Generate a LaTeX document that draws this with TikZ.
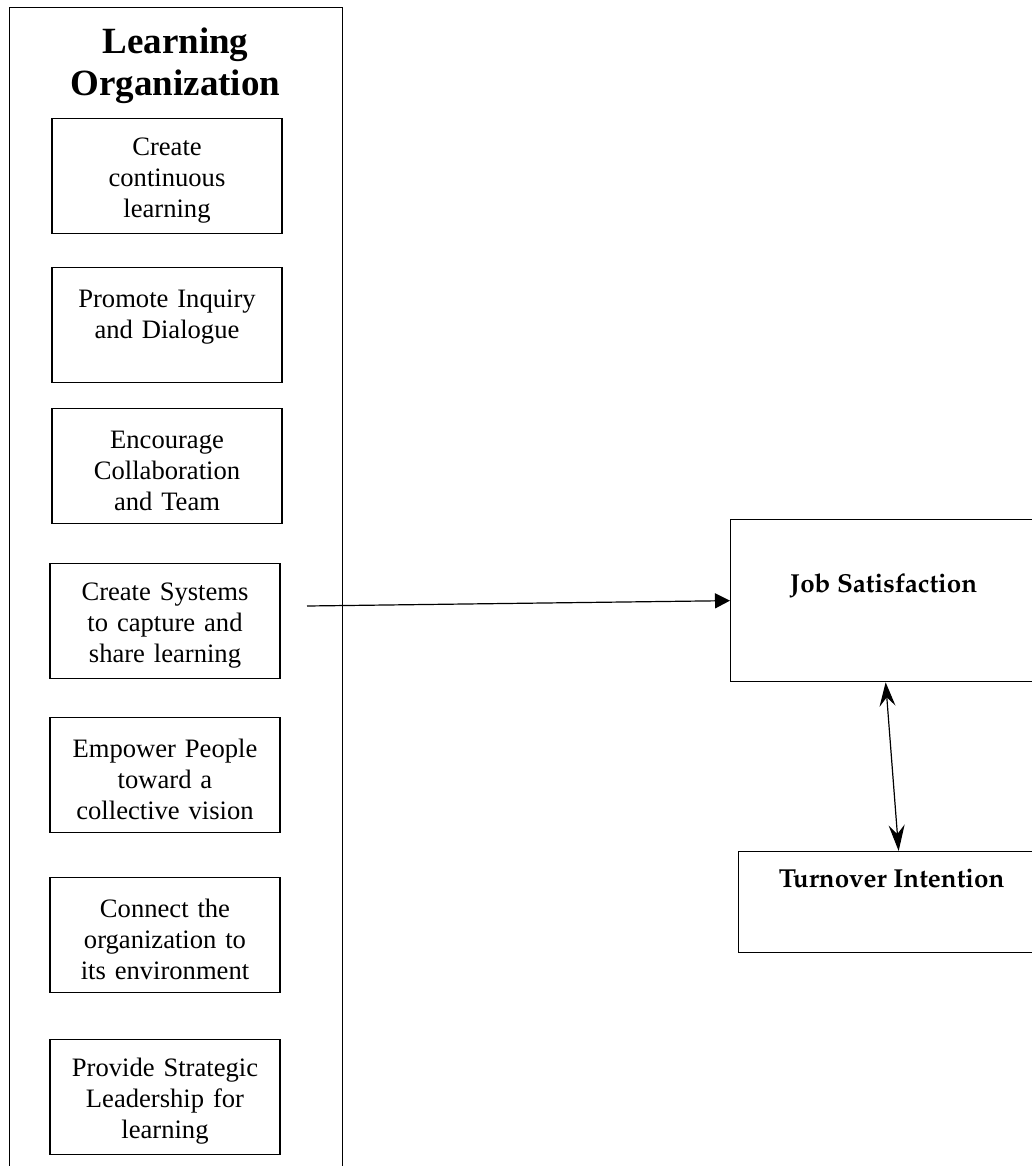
\documentclass[tikz,border=0pt]{standalone}
\usepackage[T1]{fontenc}
\usepackage{fontspec}
\setmainfont{Liberation Serif}
\usepackage{tikz}
\usetikzlibrary{arrows.meta, positioning}

\newcommand{\palbold}{\fontencoding{T1}\fontfamily{ppl}\fontseries{b}\fontshape{n}\selectfont}

\begin{document}
\begin{tikzpicture}[x=1pt, y=-1pt,
			frame/.style={draw, line width=1pt, rectangle, anchor=north west, minimum width=333pt, minimum height=1175pt},
			item/.style={draw, line width=1.3pt, rectangle, anchor=north, inner sep=0pt, minimum width=230pt, minimum height=115pt, text width=226pt, align=center, font=\fontsize{26.6}{31}\selectfont, execute at begin node={\rule{0pt}{26pt}}},
			outcome/.style={draw, line width=1.3pt, rectangle, anchor=north west, inner sep=0pt, font=\fontsize{26}{30}\palbold},
			arrow/.style={line width=1.2pt, -{Triangle[length=15pt, width=15pt]}},
			twoway/.style={line width=1.2pt, {Stealth[length=24pt, width=16pt, inset=9pt]}-{Stealth[length=26pt, width=16pt, inset=9pt]}}
		]
		\useasboundingbox (0,0) rectangle (1032,1166);
		\clip (0,0) rectangle (1032,1166);

		% Draw the container
		\node[frame] (org) at (9,7) {};
		\node[inner sep=0pt, align=center, font=\fontsize{37}{42}\selectfont\bfseries] (title) at (175.5,65.5) {Learning\\Organization};

		% Draw the dimension boxes
		\node[item] (learn) at (167,118) {Create\\continuous\\learning};
		\node[item] (inquiry) at (167,267) {Promote Inquiry\\and Dialogue\\~};
		\node[item] (team) at (167,408) {Encourage\\Collaboration\\and Team};
		\node[item] (systems) at (165,563) {Create Systems\\to capture and\\share learning};
		\node[item] (empower) at (165,717) {Empower People\\toward a\\collective vision};
		\node[item] (connect) at (165,877) {Connect the\\organization to\\its environment};
		\node[item] (lead) at (165,1039) {Provide Strategic\\Leadership for\\learning};

		% Draw the outcome boxes
		\node[outcome, minimum width=306pt, minimum height=162pt, text height=19pt, text depth=35pt] (job) at (730,519) {Job Satisfaction};
		\node[outcome, minimum width=306pt, minimum height=101pt, text height=19pt, text depth=48pt] (turnover) at (738,851) {Turnover Intention};

		% Draw the arrows
		\coordinate (src) at (307,606);
		\draw[arrow] (src) -- (job.west);
		\draw[twoway] ([xshift=2pt]job.south) -- ([xshift=7pt]turnover.north);

		\end{tikzpicture}
\end{document}
